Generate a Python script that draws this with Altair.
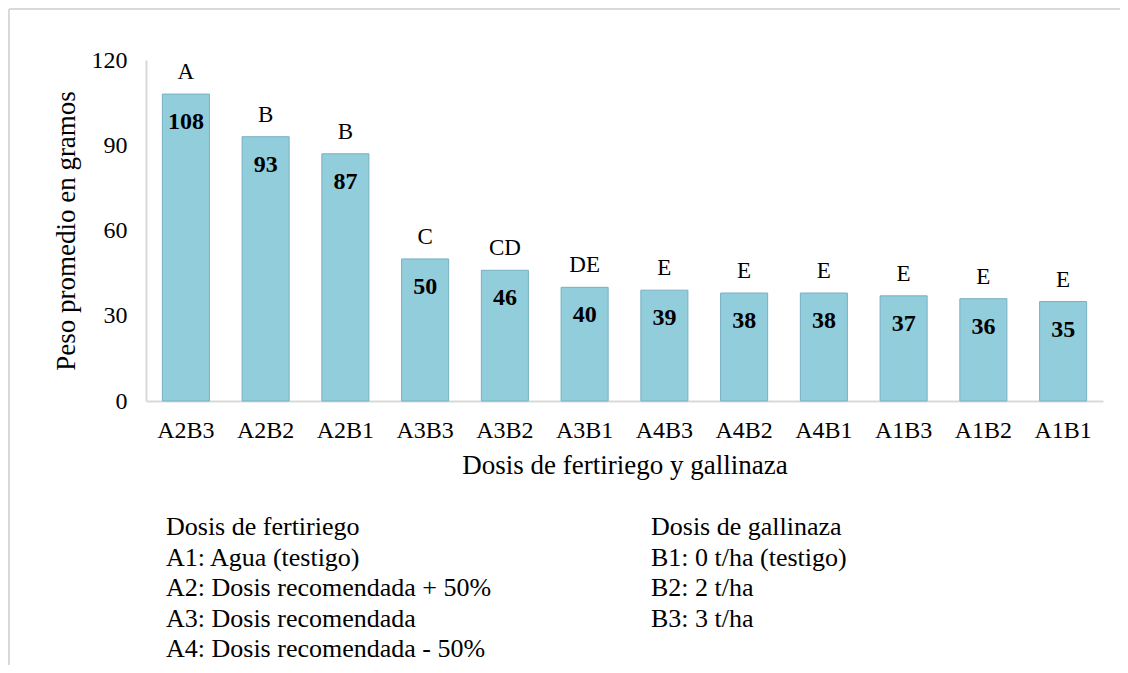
import altair as alt
import pandas as pd

categories = ["A2B3", "A2B2", "A2B1", "A3B3", "A3B2", "A3B1",
              "A4B3", "A4B2", "A4B1", "A1B3", "A1B2", "A1B1"]
values = [108, 93, 87, 50, 46, 40, 39, 38, 38, 37, 36, 35]
letters = ["A", "B", "B", "C", "CD", "DE", "E", "E", "E", "E", "E", "E"]

legend_a = ["Dosis de fertiriego", "A1: Agua (testigo)", "A2: Dosis recomendada + 50%",
            "A3: Dosis recomendada", "A4: Dosis recomendada - 50%"]
legend_b = ["Dosis de gallinaza", "B1: 0 t/ha (testigo)", "B2: 2 t/ha", "B3: 3 t/ha"]

FONT = "'Liberation Serif', 'Times New Roman', 'DejaVu Serif', serif"
W, H = 957, 341

df = pd.DataFrame({"cat": categories, "val": values, "letter": letters})

x = alt.X("cat:N", sort=categories,
          scale=alt.Scale(paddingInner=0.41, paddingOuter=0.205),
          axis=alt.Axis(title="Dosis de fertiriego y gallinaza", labelAngle=0,
                        ticks=False, domainColor="#d9d9d9", domainWidth=2,
                        labelFont=FONT, labelFontSize=24, labelColor="black",
                        labelPadding=17, titleFont=FONT, titleFontSize=27,
                        titleFontWeight="normal", titleColor="black", titlePadding=10))
y = alt.Y("val:Q", scale=alt.Scale(domain=[0, 120]),
          axis=alt.Axis(title="Peso promedio en gramos", values=[0, 30, 60, 90, 120],
                        grid=False, ticks=False, domainColor="#d9d9d9", domainWidth=2,
                        labelFont=FONT, labelFontSize=24, labelColor="black",
                        labelPadding=19, titleFont=FONT, titleFontSize=27,
                        titleFontWeight="normal", titleColor="black", titlePadding=11))

base = alt.Chart(df).encode(x=x, y=y)

bars = base.mark_bar(color="#92CDDC", stroke="#78AFC4", strokeWidth=1)
letter_txt = base.mark_text(font=FONT, fontSize=23, dy=-22, baseline="middle",
                            color="black").encode(text="letter:N")
value_txt = base.mark_text(font=FONT, fontSize=24, fontWeight="bold", dy=28,
                           baseline="middle", color="black").encode(text="val:Q")

leg_a = alt.Chart(pd.DataFrame({"t": ["\n".join(legend_a)]})).mark_text(
    font=FONT, fontSize=26, align="left", baseline="middle", lineBreak="\n",
    lineHeight=30.5, color="black").encode(
    x=alt.value(20), y=alt.value(467), text="t:N")
leg_b = alt.Chart(pd.DataFrame({"t": ["\n".join(legend_b)]})).mark_text(
    font=FONT, fontSize=26, align="left", baseline="middle", lineBreak="\n",
    lineHeight=30.5, color="black").encode(
    x=alt.value(505), y=alt.value(467), text="t:N")

frame_df = pd.DataFrame({"k": [0]})
frame_left = alt.Chart(frame_df).mark_rule(color="#d9d9d9", strokeWidth=2).encode(
    x=alt.value(-137), y=alt.value(-51), y2=alt.value(H + 265))
frame_top = alt.Chart(frame_df).mark_rule(color="#d9d9d9", strokeWidth=2).encode(
    x=alt.value(-137), x2=alt.value(W + 17), y=alt.value(-51))

chart = alt.layer(frame_left, frame_top, bars, letter_txt, value_txt, leg_a, leg_b).properties(
    width=W, height=H,
    background="white",
    autosize=alt.AutoSizeParams(type="none"),
    padding={"left": 138, "top": 52, "right": 17, "bottom": 264},
).configure_view(strokeWidth=0, stroke=None)

chart.save("out.html", embed_options={"renderer": "svg", "actions": False})
